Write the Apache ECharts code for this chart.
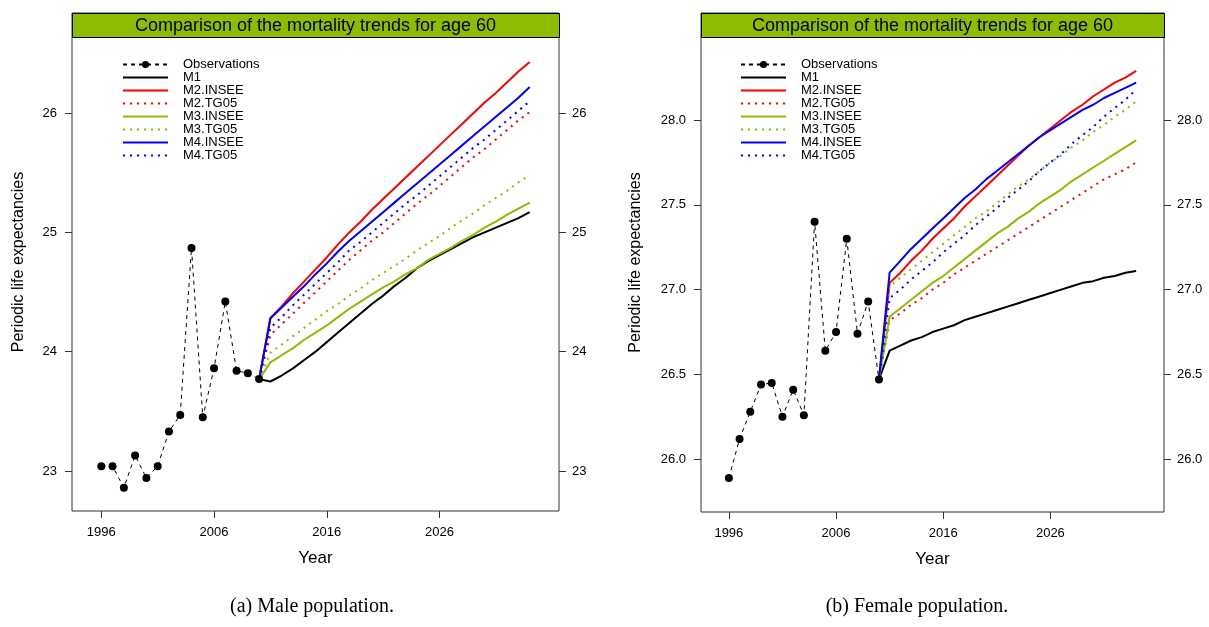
<!DOCTYPE html>
<html>
<head>
<meta charset="utf-8">
<script src="https://cdn.jsdelivr.net/npm/echarts@6/dist/echarts.min.js"></script>
<style>
  html, body { margin: 0; padding: 0; background: #fff; }
  #chart { width: 1209px; height: 627px; }
</style>
</head>
<body>
<div id="chart"></div>
<script>
// tick labels
const xTicks = [1996, 2006, 2016, 2026]
const maleTicks = [23, 24, 25, 26]
const femaleTicks = [26.0, 26.5, 27.0, 27.5, 28.0]

// observed years and projected years
const obsYears = [1996, 1997, 1998, 1999, 2000, 2001, 2002, 2003, 2004, 2005, 2006, 2007, 2008, 2009, 2010]
const projYears = [2010, 2011, 2012, 2013, 2014, 2015, 2016, 2017, 2018, 2019, 2020, 2021, 2022,
  2023, 2024, 2025, 2026, 2027, 2028, 2029, 2030, 2031, 2032, 2033, 2034]

// male population
const maleObs = [23.04, 23.04, 22.86, 23.13, 22.94, 23.04, 23.33, 23.47, 24.87, 23.45, 23.86, 24.42, 23.84, 23.82, 23.77]
const maleM1 = [23.77, 23.75, 23.80, 23.86, 23.93, 24.00, 24.08, 24.16, 24.24, 24.32, 24.40, 24.47, 24.55,
  24.62, 24.70, 24.76, 24.81, 24.86, 24.91, 24.96, 25.00, 25.04, 25.08, 25.12, 25.17]
const maleM2Insee = [23.77, 24.28, 24.38, 24.49, 24.59, 24.69, 24.79, 24.90, 25.00, 25.09, 25.19, 25.28, 25.37,
  25.46, 25.55, 25.64, 25.73, 25.82, 25.91, 26.00, 26.09, 26.17, 26.26, 26.35, 26.43]
const maleM2Tg05 = [23.77, 24.14, 24.23, 24.32, 24.41, 24.50, 24.59, 24.68, 24.77, 24.85, 24.93, 25.00, 25.08,
  25.16, 25.24, 25.31, 25.39, 25.47, 25.55, 25.63, 25.70, 25.78, 25.86, 25.94, 26.01]
const maleM3Insee = [23.77, 23.91, 23.97, 24.03, 24.10, 24.16, 24.22, 24.29, 24.36, 24.42, 24.48, 24.54, 24.59,
  24.65, 24.70, 24.77, 24.82, 24.87, 24.93, 24.98, 25.04, 25.09, 25.15, 25.20, 25.25]
const maleM3Tg05 = [23.77, 23.99, 24.06, 24.13, 24.20, 24.27, 24.34, 24.40, 24.47, 24.53, 24.60, 24.66, 24.72,
  24.78, 24.85, 24.91, 24.97, 25.04, 25.10, 25.16, 25.23, 25.29, 25.35, 25.42, 25.48]
const maleM4Insee = [23.77, 24.28, 24.37, 24.46, 24.55, 24.65, 24.74, 24.84, 24.93, 25.01, 25.09, 25.17, 25.25,
  25.33, 25.41, 25.49, 25.57, 25.65, 25.73, 25.81, 25.89, 25.97, 26.05, 26.13, 26.22]
const maleM4Tg05 = [23.77, 24.20, 24.29, 24.39, 24.48, 24.57, 24.66, 24.75, 24.85, 24.92, 25.00, 25.08, 25.16,
  25.24, 25.31, 25.39, 25.47, 25.55, 25.63, 25.71, 25.78, 25.86, 25.94, 26.02, 26.10]

// female population
const femaleObs = [25.89, 26.12, 26.28, 26.44, 26.45, 26.25, 26.41, 26.26, 27.40, 26.64, 26.75, 27.30, 26.74, 26.93, 26.47]
const femaleM1 = [26.47, 26.64, 26.67, 26.70, 26.72, 26.75, 26.77, 26.79, 26.82, 26.84, 26.86, 26.88, 26.90,
  26.92, 26.94, 26.96, 26.98, 27.00, 27.02, 27.04, 27.05, 27.07, 27.08, 27.10, 27.11]
const femaleM2Insee = [26.47, 27.04, 27.10, 27.17, 27.23, 27.30, 27.36, 27.42, 27.49, 27.55, 27.61, 27.67, 27.73,
  27.79, 27.85, 27.90, 27.95, 28.00, 28.05, 28.09, 28.14, 28.18, 28.22, 28.25, 28.29]
const femaleM2Tg05 = [26.47, 26.82, 26.86, 26.91, 26.95, 27.00, 27.04, 27.09, 27.13, 27.17, 27.21, 27.25, 27.29,
  27.33, 27.37, 27.41, 27.45, 27.49, 27.53, 27.57, 27.61, 27.65, 27.68, 27.71, 27.75]
const femaleM3Insee = [26.47, 26.84, 26.89, 26.94, 26.99, 27.04, 27.08, 27.13, 27.18, 27.23, 27.28, 27.33, 27.37,
  27.42, 27.46, 27.51, 27.55, 27.59, 27.64, 27.68, 27.72, 27.76, 27.80, 27.84, 27.88]
const femaleM3Tg05 = [26.47, 27.02, 27.07, 27.12, 27.17, 27.22, 27.27, 27.32, 27.37, 27.42, 27.46, 27.51, 27.56,
  27.61, 27.65, 27.70, 27.75, 27.79, 27.84, 27.88, 27.93, 27.97, 28.02, 28.06, 28.11]
const femaleM4Insee = [26.47, 27.10, 27.17, 27.24, 27.30, 27.36, 27.42, 27.48, 27.54, 27.59, 27.65, 27.70, 27.75,
  27.80, 27.85, 27.90, 27.94, 27.98, 28.02, 28.06, 28.09, 28.13, 28.16, 28.19, 28.22]
const femaleM4Tg05 = [26.47, 26.95, 27.00, 27.06, 27.11, 27.16, 27.22, 27.27, 27.32, 27.38, 27.43, 27.48, 27.54,
  27.59, 27.64, 27.70, 27.75, 27.80, 27.86, 27.91, 27.96, 28.02, 28.07, 28.12, 28.18]

const FONT = "Liberation Sans"
const GREEN = "#8cbd00"
const titleText = "Comparison of the mortality trends for age 60"
const yName = "Periodic life expectancies"

const pairs = (xs, ys) => xs.map((x, i) => [x, ys[i]])

function panelSeries(k, obs, m) {
  const base = { type: "line", xAxisIndex: k, yAxisIndex: k * 2, showSymbol: false, symbol: "none",
    silent: true, animation: false }
  const solid = (c) => ({ color: c, width: 2, type: "solid" })
  const dotted = (c) => ({ color: c, width: 2, type: [2, 5] })
  return [
    { ...base, name: "Observations", data: pairs(obsYears, obs), showSymbol: true, symbol: "circle",
      symbolSize: 8, itemStyle: { color: "#000" }, lineStyle: { color: "#000", width: 1, type: [4, 4] } },
    { ...base, name: "M1", data: pairs(projYears, m[0]), itemStyle: { color: "#000" }, lineStyle: solid("#000") },
    { ...base, name: "M2.INSEE", data: pairs(projYears, m[1]), itemStyle: { color: "#ff0000" }, lineStyle: solid("#ff0000") },
    { ...base, name: "M2.TG05", data: pairs(projYears, m[2]), itemStyle: { color: "#ff0000" }, lineStyle: dotted("#ff0000") },
    { ...base, name: "M3.INSEE", data: pairs(projYears, m[3]), itemStyle: { color: GREEN }, lineStyle: solid(GREEN) },
    { ...base, name: "M3.TG05", data: pairs(projYears, m[4]), itemStyle: { color: GREEN }, lineStyle: dotted(GREEN) },
    { ...base, name: "M4.INSEE", data: pairs(projYears, m[5]), itemStyle: { color: "#0000ff" }, lineStyle: solid("#0000ff") },
    { ...base, name: "M4.TG05", data: pairs(projYears, m[6]), itemStyle: { color: "#0000ff" }, lineStyle: dotted("#0000ff") },
  ]
}

const grids = [
  { left: 72, top: 13, width: 487, height: 498 },
  { left: 701, top: 13, width: 463, height: 499 },
]

function xAxis(k) {
  return {
    type: "value", gridIndex: k, min: 1993.4, max: 2036.6,
    name: "Year", nameLocation: "middle", nameGap: 39,
    nameTextStyle: { fontFamily: FONT, fontSize: 17, color: "#000" },
    axisLine: { show: false },
    splitLine: { show: false },
    axisTick: { show: true, length: 7, customValues: xTicks, lineStyle: { color: "#333" } },
    axisLabel: { customValues: xTicks, margin: 15, fontFamily: FONT, fontSize: 13, color: "#000",
      formatter: (v) => String(v) },
  }
}

function yAxis(k, pos, min, max, ticks, fmt, withName, gap) {
  return {
    type: "value", gridIndex: k, position: pos, min: min, max: max,
    name: withName ? yName : "", nameLocation: "middle", nameGap: gap, nameRotate: 90,
    nameTextStyle: { fontFamily: FONT, fontSize: 16, color: "#000" },
    axisLine: { show: false },
    splitLine: { show: false },
    axisTick: { show: true, length: 7, customValues: ticks, lineStyle: { color: "#333" } },
    axisLabel: { customValues: ticks, margin: pos === "left" ? 15 : 13, fontFamily: FONT, fontSize: 13,
      color: "#000", formatter: fmt },
  }
}

const legendNames = ["Observations", "M1", "M2.INSEE", "M2.TG05", "M3.INSEE", "M3.TG05", "M4.INSEE", "M4.TG05"]
function legend(left) {
  return {
    data: legendNames.map((n) => (n === "Observations" ? { name: n } : { name: n, itemStyle: { opacity: 0 } })),
    orient: "vertical", left: left, top: 58, padding: 0,
    itemWidth: 45, itemHeight: 9, itemGap: 0, selectedMode: false,
    textStyle: { fontFamily: FONT, fontSize: 13, lineHeight: 13, color: "#000", padding: [0, 0, 0, 10] },
  }
}

function bar(g) {
  return [
    { type: "rect", left: g.left, top: g.top, shape: { width: g.width, height: 24 },
      style: { fill: GREEN, stroke: "#000", lineWidth: 1 }, z: 10 },
    { type: "text", x: g.left + g.width / 2, y: g.top + 13, z: 11,
      style: { text: titleText, font: "18px '" + FONT + "'", fill: "#000", align: "center", verticalAlign: "middle" } },
  ]
}

const chart = echarts.init(document.getElementById("chart"))
chart.setOption({
  animation: false,
  backgroundColor: "#fff",
  grid: grids.map((g) => ({ ...g, show: true, borderColor: "#333", borderWidth: 1, containLabel: false })),
  xAxis: [xAxis(0), xAxis(1)],
  yAxis: [
    yAxis(0, "left", 22.664, 26.84, maleTicks, (v) => String(v), true, 45),
    yAxis(0, "right", 22.664, 26.84, maleTicks, (v) => String(v), false, 0),
    yAxis(1, "left", 25.689, 28.631, femaleTicks, (v) => v.toFixed(1), true, 57),
    yAxis(1, "right", 25.689, 28.631, femaleTicks, (v) => v.toFixed(1), false, 0),
  ],
  legend: [legend(122), legend(740)],
  series: [
    ...panelSeries(0, maleObs, [maleM1, maleM2Insee, maleM2Tg05, maleM3Insee, maleM3Tg05, maleM4Insee, maleM4Tg05]),
    ...panelSeries(1, femaleObs, [femaleM1, femaleM2Insee, femaleM2Tg05, femaleM3Insee, femaleM3Tg05, femaleM4Insee, femaleM4Tg05]),
  ],
  graphic: [
    ...bar(grids[0]),
    ...bar(grids[1]),
    { type: "text", x: 312, y: 607, style: { text: "(a) Male population.", font: "20px 'Liberation Serif'",
      fill: "#000", align: "center", verticalAlign: "middle" } },
    { type: "text", x: 917, y: 607, style: { text: "(b) Female population.", font: "20px 'Liberation Serif'",
      fill: "#000", align: "center", verticalAlign: "middle" } },
  ],
})
</script>
</body>
</html>
